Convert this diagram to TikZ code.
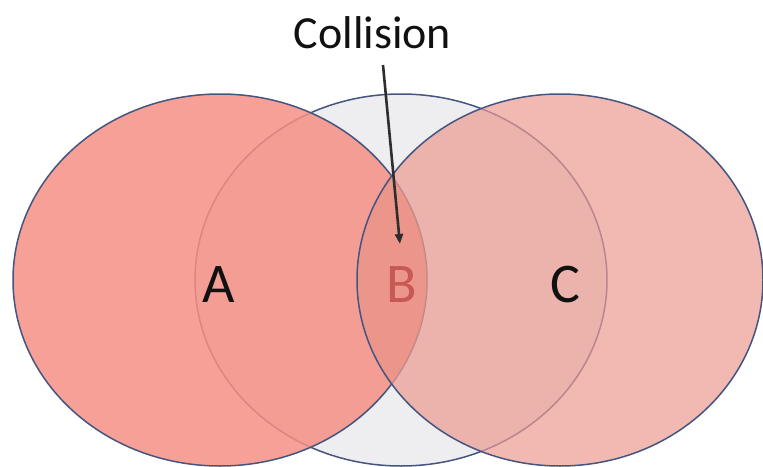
\documentclass[tikz,border=0pt]{standalone}
\usepackage{fontspec}
\setmainfont{Carlito}
\usetikzlibrary{arrows.meta,positioning}
\definecolor{ink}{HTML}{111111}
\definecolor{edge}{HTML}{44557F}
\definecolor{setgray}{HTML}{EEEEF1}
\definecolor{setred}{HTML}{F68F85}
\definecolor{setpink}{HTML}{EC9B91}
\definecolor{lensred}{HTML}{E8766C}
\definecolor{bred}{HTML}{C65A52}
\definecolor{arrowgray}{HTML}{2E2E2E}
\tikzset{
  every node/.style={font=\fontsize{56}{60}\selectfont, inner sep=0pt},
  setB/.style={draw=edge, line width=1.5pt, fill=setgray},
  setA/.style={draw=edge, line width=1.5pt, fill=setred, fill opacity=0.85},
  setC/.style={draw=edge, line width=1.5pt, fill=setpink, fill opacity=0.7},
  title/.style={font=\fontsize{46}{50}\selectfont, text=ink},
  setlabel/.style={text=ink},
  arrow/.style={-{Triangle[length=10pt,width=8pt]}, line width=2.6pt, draw=arrowgray},
}
\begin{document}
\begin{tikzpicture}[x=1pt,y=-1pt]
\useasboundingbox (0,0) rectangle (763,466);
\clip (0,0) rectangle (763,466);
% the three sets
\draw[setB] (401,280) ellipse [x radius=206, y radius=186];
\draw[setA] (220,280) ellipse [x radius=207, y radius=186];
\begin{scope}
  \clip (220,280) ellipse [x radius=207, y radius=186];
  \fill[lensred, fill opacity=0.5] (560,280) ellipse [x radius=203, y radius=186];
\end{scope}
\draw[setC] (560,280) ellipse [x radius=203, y radius=186];
% labels
\node[setlabel, anchor=base] (lblA) at (219,302) {A};
\node[setlabel, anchor=base, text=bred] (lblB) at (402,302) {B};
\node[setlabel, anchor=base] (lblC) at (565,302) {C};
\node[title, anchor=base] (coll) at (372.5,48) {Collision};
\coordinate (tail) at (383,65);
\draw[arrow, shorten >=22pt] (tail) -- (lblB.north);
\end{tikzpicture}
\end{document}
